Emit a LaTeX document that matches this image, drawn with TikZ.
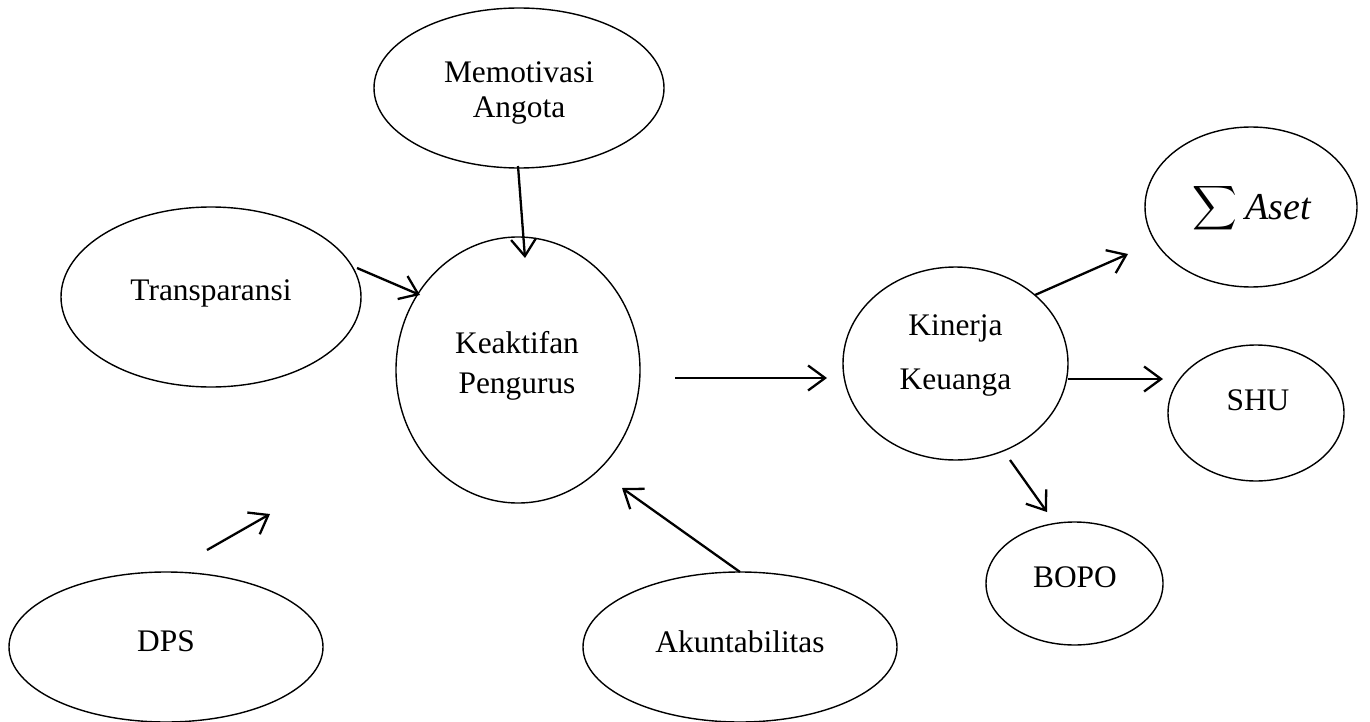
\documentclass[tikz,border=0pt]{standalone}
\usepackage{fontspec}
\setmainfont{Liberation Serif}
\usetikzlibrary{shapes.geometric,arrows.meta}
\begin{document}
\begin{tikzpicture}[x=0.5pt,y=-0.5pt,
  ell/.style={draw, ellipse, line width=0.7pt, inner sep=0pt},
  lbl/.style={font=\fontsize{15.7}{18}\selectfont, inner sep=0pt, anchor=base},
  arr/.style={line width=1.15pt, -{Straight Barb[length=8.5pt,width=12.5pt,line width=1.15pt]}}]
\useasboundingbox (0,0) rectangle (1370,722);
% ellipses
\node[ell, minimum width=145pt, minimum height=80pt] (memo) at (519,88) {};
\node[ell, minimum width=150pt, minimum height=90pt] (trans) at (211,297) {};
\node[ell, minimum width=122pt, minimum height=133pt] (keak) at (518,370) {};
\node[ell, minimum width=112.5pt, minimum height=96.5pt] (kin) at (955.5,363.5) {};
\node[ell, minimum width=106pt, minimum height=80pt] (aset) at (1251,207) {};
\node[ell, minimum width=88pt, minimum height=68pt] (shu) at (1256,413) {};
\node[ell, minimum width=88.5pt, minimum height=61.5pt] (bopo) at (1074.5,583.5) {};
\node[ell, minimum width=157pt, minimum height=75pt] (dps) at (166,647) {};
\node[ell, minimum width=157pt, minimum height=75pt] (akun) at (740,647) {};
% labels
\node[lbl] (memoA) at (519,83) {Memotivasi};
\node[lbl] (memoB) at (519,118) {Angota};
\node[lbl] (transT) at (211,300) {Transparansi};
\node[lbl] (keakA) at (517,353) {Keaktifan};
\node[lbl] (keakB) at (517,393) {Pengurus};
\node[lbl] (kinA) at (955.5,335) {Kinerja};
\node[lbl] (kinB) at (955.5,389) {Keuanga};
\node[lbl] (asetT) at (1252,219) {\scalebox{1.55}{$\displaystyle\sum$}\hspace{4pt}{\fontsize{19}{20}\selectfont\itshape Aset}};
\node[lbl] (shuT) at (1258,410) {SHU};
\node[lbl] (bopoT) at (1075,587) {BOPO};
\node[lbl] (dpsT) at (166,651) {DPS};
\node[lbl] (akunT) at (740,652) {Akuntabilitas};
% arrow ends
\coordinate (m1) at (518,166);  \coordinate (m2) at (525,258);
\coordinate (t1) at (357,268);  \coordinate (t2) at (420,295);
\coordinate (d1) at (207,550);  \coordinate (d2) at (270,514);
\coordinate (a1) at (740,572);  \coordinate (a2) at (622,488);
\coordinate (k1) at (675,378);  \coordinate (k2) at (827,378);
\coordinate (s1) at (1035,295); \coordinate (s2) at (1128,254);
\coordinate (h1) at (1068,379); \coordinate (h2) at (1163,379);
\coordinate (b1) at (1010,460); \coordinate (b2) at (1047,512);
\draw[arr] (m1) -- (m2);
\draw[arr] (t1) -- (t2);
\draw[arr] (d1) -- (d2);
\draw[arr] (a1) -- (a2);
\draw[arr] (k1) -- (k2);
\draw[arr] (s1) -- (s2);
\draw[arr] (h1) -- (h2);
\draw[arr] (b1) -- (b2);
\end{tikzpicture}
\end{document}
